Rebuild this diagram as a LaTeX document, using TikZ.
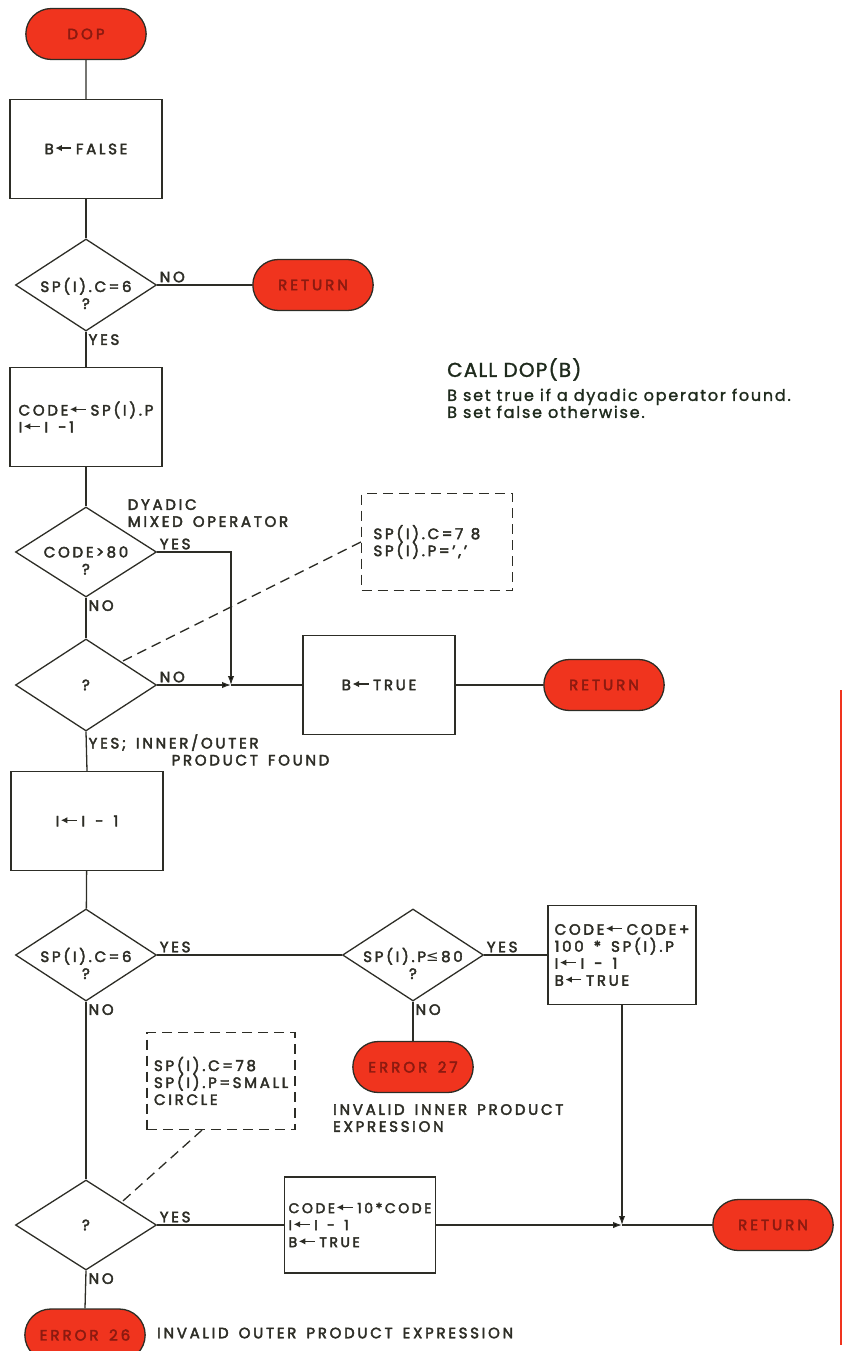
\documentclass[tikz,border=0pt]{standalone}
\usepackage{fontspec}
\setmainfont{Poppins}[LetterSpace=18,FakeBold=2.8,WordSpace=1.5]
\newfontfamily\callfont{Poppins}[FakeBold=1.6]
\newfontfamily\symfont{DejaVu Sans}
\usetikzlibrary{shapes.geometric,shapes.misc,arrows.meta}
\definecolor{termred}{RGB}{240,52,30}
\definecolor{termtext}{RGB}{140,26,16}
\definecolor{ink}{RGB}{45,45,38}
\newcommand{\assign}{\hspace{1pt}\tikz[baseline=-0.75ex]\draw[ink,line width=1.2pt,-{Latex[length=6.5pt,width=6.5pt]}] (16pt,0pt) -- (0pt,0pt);\hspace{4pt}}
\newcommand{\leqsym}{{\symfont ≤}}
\begin{document}
\begin{tikzpicture}[x=1pt,y=-1pt,>={Latex[length=9pt,width=6.5pt]},
  every node/.style={text=ink,font=\fontsize{15}{17}\selectfont},
  line/.style={draw=ink,line width=1.3pt},
  term/.style={rounded rectangle,draw=ink,line width=1.3pt,fill=termred,text=termtext,
    minimum width=127pt,minimum height=51pt,font=\fontsize{15}{16}\selectfont\addfontfeatures{LetterSpace=20}},
  proc/.style={rectangle,draw=ink,line width=1.3pt,minimum width=152pt,minimum height=99pt,align=left,inner sep=2pt},
  dec/.style={diamond,draw=ink,line width=1.3pt,minimum width=141pt,minimum height=92pt,inner sep=0pt},
  dlab/.style={align=center,yshift=-8.5pt},
  note/.style={rectangle,draw=ink,dash pattern=on 10pt off 6pt,line width=1.2pt,minimum height=97pt,align=left},
  tag/.style={inner sep=2pt}]
  \useasboundingbox (0,0) rectangle (844,1351);
  \node[term] (dop) at (86,34) {DOP};
  \node[proc] (pf) at (86,149) {B\assign FALSE};
  \node[dec,label={[dlab]center:SP(I).C\,=\,6\\?}] (d1) at (86,285) {};
  \node[term] (r1) at (313,285) {RETURN};
  \node[proc] (p2) at (86,417) {CODE\assign SP(I).P\\I\assign I -1};
  \node[dec,minimum height=90pt,label={[dlab]center:CODE\,>\,80\\?}] (d2) at (86,552) {};
  \node[dec] (d3) at (86,685) {?};
  \node[proc] (pt) at (379,685) {B\assign TRUE};
  \node[term] (r2) at (604,685) {RETURN};
  \node[proc] (p3) at (87,821) {I\assign I - 1};
  \node[dec,label={[dlab]center:SP(I).C\,=\,6\\?}] (d4) at (86,955) {};
  \node[dec,label={[dlab]center:SP(I).P\leqsym\,80\\?}] (d5) at (413,955) {};
  \node[proc,minimum width=148pt] (p4) at (622,955) {CODE\assign CODE+\\100 * SP(I).P\\I\assign I - 1\\B\assign TRUE};
  \node[term] (e27) at (413,1067) {ERROR 27};
  \node[note,text width=127pt,inner xsep=12pt] (nb1) at (437,542) {SP(I).C\,=\,7\enspace 8\\SP(I).P\,=\,','};
  \node[note,text width=134pt,inner xsep=7pt] (nb2) at (221,1081) {SP(I).C\,=\,78\\SP(I).P\,=\,SMALL\\CIRCLE};
  \node[dec,minimum height=90pt] (d6) at (86,1225) {?};
  \node[proc,minimum width=151pt,minimum height=96pt,font=\fontsize{14}{17}\selectfont] (p5) at (360,1225) {CODE\assign 10*CODE\\I\assign I - 1\\B\assign TRUE};
  \node[term] (r3) at (773,1225) {RETURN};
  \node[term,minimum height=52pt] (e26) at (85,1335) {ERROR 26};
  \coordinate (j1) at (231,685);
  \coordinate (j2) at (p4.south |- r3.west);
  \draw[line] (dop) -- (pf);
  \draw[line] (pf) -- (d1);
  \draw[line] (d1.east) -- (r1.west) node[pos=0,tag,above right] {NO};
  \draw[line] (d1.south) -- (p2.north) node[pos=0,tag,below right] {YES};
  \draw[line] (p2) -- (d2);
  \draw[line] (d2.south) -- (d3.north) node[pos=0,tag,below right] {NO};
  \draw[line,->] (d2.east) -- (d2.east -| j1) node[pos=0,tag,above right] {YES} -- (j1);
  \node[tag,anchor=south west,align=left,xshift=4pt] (dyad) at (d2.north east) {DYADIC\\MIXED OPERATOR};
  \draw[line,->] (d3.east) -- (j1) node[pos=0,tag,above right] {NO};
  \draw[line] (j1) -- (pt.west);
  \draw[line] (pt) -- (r2);
  \draw[line] (d3.south) -- (p3.north) node[pos=0,tag,below right,align=left] {YES; INNER/OUTER\\\hspace*{83pt}PRODUCT FOUND};
  \draw[line] (p3) -- (d4);
  \draw[line] (d4.east) -- (d5.west) node[pos=0,tag,above right] {YES};
  \draw[line] (d5.east) -- (p4.west) node[pos=0,tag,above right] {YES};
  \draw[line] (d5.south) -- (e27.north) node[pos=0,tag,below right] {NO};
  \draw[line] (d4.south) -- (d6.north) node[pos=0,tag,below right] {NO};
  \draw[line] (d6.east) -- (p5.west) node[pos=0,tag,above right] {YES};
  \draw[line,->] (p4.south) -- (j2);
  \draw[line,->] (p5.east) -- (j2);
  \draw[line] (j2) -- (r3.west);
  \draw[line] (d6.south) -- (e26.north) node[pos=0,tag,below right] {NO};
  \draw[line,dash pattern=on 10pt off 6pt] (nb1.west) -- (d3.north east);
  \draw[line,dash pattern=on 10pt off 6pt] ([xshift=-19pt]nb2.south) -- (d6.north east);
  \node[tag,anchor=north west,align=left] (inner) at (331,1102) {INVALID INNER PRODUCT\\EXPRESSION};
  \node[tag,anchor=west] (outer) at (155,1333) {INVALID OUTER PRODUCT EXPRESSION};
  \node[anchor=north west,align=left,inner sep=0pt,text={rgb,255:red,30;green,42;blue,28}] (call) at (447,358)
    {{\callfont\addfontfeatures{LetterSpace=6}\fontsize{20}{22}\selectfont CALL DOP(B)}\\[7pt]
     {\callfont\addfontfeatures{LetterSpace=11}\fontsize{16}{17}\selectfont B set true if a dyadic operator found.}\\
     {\callfont\addfontfeatures{LetterSpace=11}\fontsize{16}{17}\selectfont B set false otherwise.}};
  \draw[termred,line width=2.5pt] (841,690) -- (841,1345);
\end{tikzpicture}
\end{document}
